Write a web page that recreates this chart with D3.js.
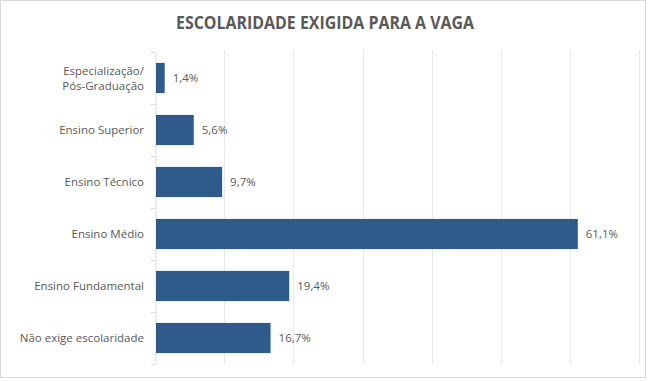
<!DOCTYPE html>
<html><head><meta charset="utf-8">
<script src="https://cdn.jsdelivr.net/npm/d3@7"></script>
<style>html,body{margin:0;padding:0;background:#fff;}svg{display:block;}</style>
</head><body>
<script>
const categories = ["Especialização/\nPós-Graduação","Ensino Superior","Ensino Técnico","Ensino Médio","Ensino Fundamental","Não exige escolaridade"];
const values = [0.014,0.056,0.097,0.611,0.194,0.167];
const valueLabels = ["1,4%","5,6%","9,7%","61,1%","19,4%","16,7%"];
const xTicks = [0,0.1,0.2,0.3,0.4,0.5,0.6,0.7];
const title = "ESCOLARIDADE EXIGIDA PARA A VAGA";

const W=648,H=382;
const svg=d3.select("body").append("svg").attr("width",W).attr("height",H);
svg.append("rect").attr("x",0.5).attr("y",0.5).attr("width",645).attr("height",377).attr("fill","#fff").attr("stroke","#d9d9d9");

const font="'Open Sans', 'Noto Sans', sans-serif";
svg.append("text").attr("x",325).attr("y",29).attr("text-anchor","middle")
  .attr("font-family",font).attr("font-weight","bold").attr("font-size",17).attr("fill","#595959")
  .attr("textLength",298).attr("lengthAdjust","spacingAndGlyphs").text(title);

const x=d3.scaleLinear().domain([0,0.7]).range([155,639.4]);
const y=d3.scaleBand().domain(categories).range([52,364]).paddingInner(0.42).paddingOuter(0.21);

// gridlines
svg.append("g").selectAll("line").data(xTicks.slice(1)).join("line")
  .attr("x1",d=>Math.round(x(d))+0.5).attr("x2",d=>Math.round(x(d))+0.5)
  .attr("y1",50).attr("y2",364).attr("stroke","#e8e8e8").attr("stroke-width",1);

// axis
const ax=svg.append("g").attr("transform","translate(155.5,0)")
  .call(d3.axisLeft(y).tickSize(0).tickFormat(""));
ax.select(".domain").attr("stroke","#d9d9d9");
const bounds=[52,...categories.map((c,i)=>52+52*(i+1))];
svg.append("g").selectAll("line").data(bounds).join("line")
  .attr("x1",151).attr("x2",155).attr("y1",d=>d+0.5).attr("y2",d=>d+0.5).attr("stroke","#d9d9d9");

// bars
svg.append("g").selectAll("rect").data(values).join("rect")
  .attr("x",x(0)+1).attr("y",(d,i)=>y(categories[i]))
  .attr("width",d=>x(d)-x(0)-1).attr("height",y.bandwidth()).attr("fill","#2E5B8A");

// value labels
svg.append("g").selectAll("text").data(values).join("text")
  .attr("x",d=>x(d)+8).attr("y",(d,i)=>y(categories[i])+y.bandwidth()/2)
  .attr("dy","0.35em").attr("font-family",font).attr("font-size",11.5).attr("fill","#595959")
  .text((d,i)=>valueLabels[i]);

// category labels
const cl=svg.append("g").selectAll("text").data(categories).join("text")
  .attr("x",144).attr("y",d=>y(d)+y.bandwidth()/2)
  .attr("text-anchor","end").attr("font-family",font).attr("font-size",11.5).attr("fill","#595959");
cl.each(function(d){
  const lines=d.split("\n");const t=d3.select(this);
  lines.forEach((l,i)=>{
    t.append("tspan").attr("x",144).attr("dy",i===0?((0.35-(lines.length-1)*0.6)+"em"):"1.25em").text(l);
  });
});
</script>
</body></html>
